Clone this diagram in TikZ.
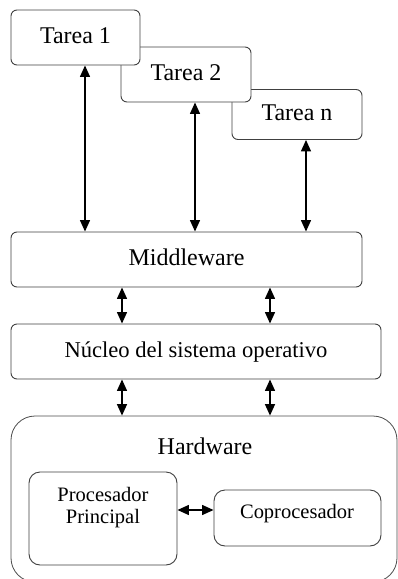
\documentclass[tikz,border=0pt]{standalone}
\usepackage{fontspec}
\setmainfont{Liberation Serif}
\usetikzlibrary{arrows.meta}
\tikzset{
  box/.style={draw=black!75, line width=0.9pt, fill=white, rounded corners=6pt, inner sep=0pt,
    font=\fontsize{24}{28}\selectfont, text height=16pt, text depth=5pt},
  hwbox/.style={draw=black!70, line width=0.8pt, fill=white, rounded corners=24pt, inner sep=0pt},
  subbox/.style={draw=black!75, line width=0.9pt, fill=white, rounded corners=11pt, inner sep=0pt},
  lbl/.style={inner sep=0pt, font=\fontsize{24}{28}\selectfont},
  sublbl/.style={inner sep=0pt, align=center, font=\fontsize{20.5}{21.5}\selectfont},
  link/.style={line width=1.4pt, {Triangle[length=11.5pt,width=10pt]}-{Triangle[length=11.5pt,width=10pt]}},
}
\begin{document}
\begin{tikzpicture}[x=1pt,y=-1pt]
\useasboundingbox (0,0) rectangle (398,579);
\clip (0,0) rectangle (398,579);
% task boxes (back to front)
\node[box, minimum width=130pt, minimum height=50pt] (tn) at (297,114.5) {Tarea n};
\node[box, minimum width=130pt, minimum height=55pt] (t2) at (186,74.5) {Tarea 2};
\node[box, minimum width=129pt, minimum height=55pt] (t1) at (75.5,37.5) {Tarea 1};
% layers
\node[box, minimum width=351pt, minimum height=55pt] (mw) at (186.5,259.5) {Middleware};
\node[box, minimum width=370pt, minimum height=55pt, font=\fontsize{22.6}{26}\selectfont] (nk) at (196,351.5) {Núcleo del sistema operativo};
% hardware
\node[hwbox, minimum width=386pt, minimum height=166pt] (hw) at (204,499) {};
\node[lbl, anchor=base] (hwt) at (205,454) {Hardware};
\node[subbox, minimum width=148pt, minimum height=93pt] (pp) at (103,518.5) {};
\node[sublbl] (ppt) at (103,507.6) {Procesador\\Principal};
\node[subbox, minimum width=167pt, minimum height=56pt] (cp) at (297.5,518) {};
\node[sublbl, anchor=base] (cpt) at (297,518) {Coprocesador};
% connectors
\draw[link] ([xshift=9.5pt]t1.south) -- ([xshift=9.5pt]t1.south |- mw.north);
\draw[link] ([xshift=9pt]t2.south) -- ([xshift=9pt]t2.south |- mw.north);
\draw[link] ([xshift=9pt]tn.south) -- ([xshift=9pt]tn.south |- mw.north);
\draw[link] ([xshift=-64.5pt]mw.south) -- ([xshift=-64.5pt]mw.south |- nk.north);
\draw[link] ([xshift=83.5pt]mw.south) -- ([xshift=83.5pt]mw.south |- nk.north);
\draw[link] ([xshift=-74pt]nk.south) -- ([xshift=-74pt]nk.south |- hw.north);
\draw[link] ([xshift=74pt]nk.south) -- ([xshift=74pt]nk.south |- hw.north);
\draw[link] ([yshift=8.5pt]pp.east) -- ([yshift=8.5pt]pp.east -| cp.west);
\end{tikzpicture}
\end{document}
